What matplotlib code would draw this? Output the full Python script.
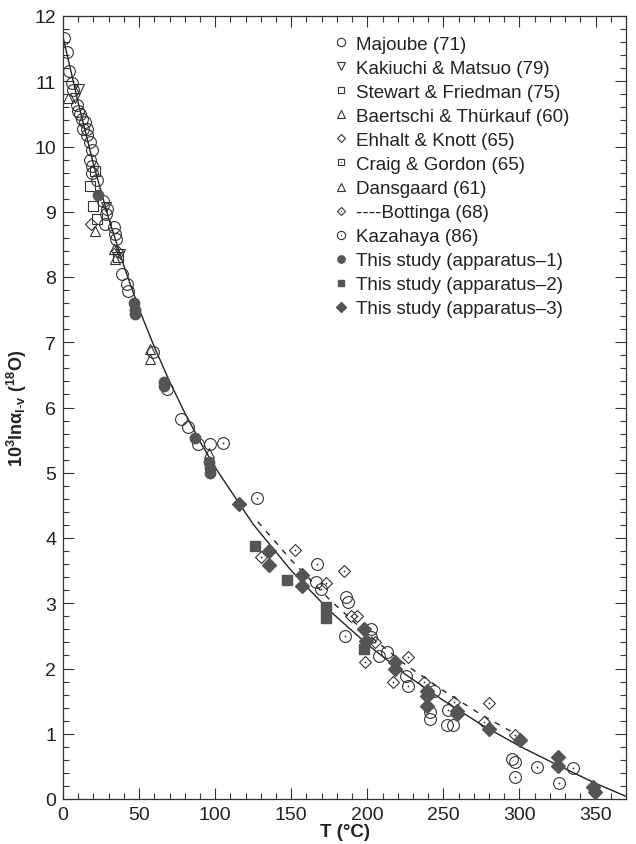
import numpy as np
import matplotlib
matplotlib.use('Agg')
import matplotlib.pyplot as plt
from matplotlib.ticker import MultipleLocator
from matplotlib.legend_handler import HandlerTuple

plt.rcParams['font.family'] = ['Liberation Sans', 'DejaVu Sans']
plt.rcParams['mathtext.default'] = 'regular'

### Данные (T в °C, значения 10^3 ln a)

# сплошная кривая
curve_T = [0, 10, 20, 30, 40, 50, 60, 70, 80, 90, 100, 125, 150, 175, 200, 225, 250, 275, 300, 325, 350, 370]
curve_v = [11.68, 10.67, 9.73, 8.90, 8.17, 7.51, 6.93, 6.40, 5.92, 5.48, 5.08, 4.21, 3.50, 2.89,
           2.37, 1.91, 1.51, 1.14, 0.81, 0.52, 0.24, 0.04]

# пунктир Bottinga
bott_line_T = [128, 150, 175, 200, 225, 250, 275, 298]
bott_line_v = [4.25, 3.66, 3.06, 2.53, 2.06, 1.66, 1.29, 0.99]

majoube_T = [0.7, 2.8, 4.2, 5.7, 6.8, 9.0, 10.1, 11.2, 12.3, 14.5, 13.4, 15.6, 15.6, 17.8, 18.9, 17.8,
             18.9, 19.2, 22.2, 26.2, 28.8, 28.3, 27.7, 33.2, 34.3, 34.9, 38.7, 42.0, 43.0, 59.0, 68.4,
             77.8, 82.0, 88.8, 96.9, 166.0, 185.9, 187.0, 202.4, 207.6, 212.9, 225.4, 243.7, 241.5,
             241.5, 252.5, 256.2, 295.0, 296.8]
majoube_v = [11.67, 11.45, 11.16, 10.98, 10.86, 10.63, 10.55, 10.50, 10.42, 10.37, 10.27, 10.27, 10.17,
             10.07, 9.94, 9.80, 9.70, 9.60, 9.48, 9.17, 9.04, 8.97, 8.81, 8.76, 8.66, 8.58, 8.05, 7.89,
             7.79, 6.85, 6.28, 5.82, 5.70, 5.44, 5.44, 3.33, 3.10, 3.02, 2.61, 2.19, 2.25, 1.88, 1.66,
             1.33, 1.23, 1.13, 1.13, 0.61, 0.56]

kakiuchi_T = [8.0, 10.8, 28.5, 37.6]
kakiuchi_v = [10.75, 10.88, 9.08, 8.35]

stewart_T = [17.8, 20.0, 22.2]
stewart_v = [9.40, 9.09, 8.89]

baertschi_T = [3.5, 21.1, 33.2, 57.3]
baertschi_v = [10.75, 8.71, 8.43, 6.90]

ehhalt_T = [18.2, 35.5]
ehhalt_v = [8.81, 8.40]

craig_T = [21.0, 36.0]
craig_v = [9.62, 8.30]

dansgaard_T = [34.0, 56.9, 95.8]
dansgaard_v = [8.28, 6.74, 5.31]

bottinga_T = [130.3, 152.3, 172.7, 184.4, 189.2, 193.1, 198.4, 205.0, 216.7, 226.6, 237.0, 257.0,
              277.0, 279.7, 296.8]
bottinga_v = [3.71, 3.81, 3.31, 3.50, 2.80, 2.80, 2.10, 2.41, 1.79, 2.18, 1.79, 1.49, 1.18, 1.47, 0.98]

kazahaya_T = [105.3, 127.7, 166.8, 169.4, 185.2, 202.4, 226.8, 252.9, 296.8, 311.8, 325.8, 335.3]
kazahaya_v = [5.46, 4.62, 3.60, 3.22, 2.50, 2.48, 1.73, 1.37, 0.33, 0.49, 0.24, 0.47]

app1_T = [23.3, 46.4, 47.0, 47.5, 66.1, 66.5, 86.6, 96.0, 96.5, 96.6]
app1_v = [9.25, 7.60, 7.50, 7.43, 6.39, 6.33, 5.54, 5.16, 5.08, 5.00]

app2_T = [126.0, 147.5, 172.7, 172.7, 197.8]
app2_v = [3.87, 3.36, 2.95, 2.77, 2.30]

app3_T = [115.6, 135.3, 135.3, 157.0, 157.0, 197.8, 199.0, 218.2, 218.2, 239.3, 239.3, 239.3, 259.0,
          259.0, 279.7, 300.1, 325.0, 325.0, 348.5, 349.4]
app3_v = [4.52, 3.80, 3.59, 3.43, 3.26, 2.61, 2.42, 2.10, 1.99, 1.66, 1.58, 1.43, 1.35, 1.30, 1.07,
          0.91, 0.64, 0.51, 0.18, 0.11]

### Рисунок
fig = plt.figure(figsize=(6.36, 8.45), dpi=100)
ax = fig.add_axes([63 / 636, 1 - 800 / 845, 563 / 636, 783 / 845])

ec = '#333333'
fc = '#555555'

ax.plot(curve_T, curve_v, color='#222222', lw=1.0, zorder=2)
ax.plot(bott_line_T, bott_line_v, color='#222222', lw=1.0, ls=(0, (4, 5)), zorder=2)


def opn(T, v, m, s):
    return ax.plot(T, v, ls='none', marker=m, ms=s, mfc='none', mec=ec, mew=0.8, zorder=3)[0]


def dot(T, v):
    return ax.plot(T, v, ls='none', marker='o', ms=1.3, mfc=ec, mec=ec, mew=0, zorder=3)[0]


h_maj = opn(majoube_T, majoube_v, 'o', 8.5)
h_kak = opn(kakiuchi_T, kakiuchi_v, 'v', 7.5)
h_ste = opn(stewart_T, stewart_v, 's', 7)
h_bae = opn(baertschi_T, baertschi_v, '^', 7.5)
h_ehh = opn(ehhalt_T, ehhalt_v, 'D', 6)
h_cra = (opn(craig_T, craig_v, 's', 7), dot(craig_T, craig_v))
h_dan = opn(dansgaard_T, dansgaard_v, '^', 7.5)
h_bot = (opn(bottinga_T, bottinga_v, 'D', 6), dot(bottinga_T, bottinga_v))
h_kaz = (opn(kazahaya_T, kazahaya_v, 'o', 8.5), dot(kazahaya_T, kazahaya_v))
h_a1 = ax.plot(app1_T, app1_v, ls='none', marker='o', ms=7.5, color=fc, zorder=4)[0]
h_a2 = ax.plot(app2_T, app2_v, ls='none', marker='s', ms=7, color=fc, zorder=4)[0]
h_a3 = ax.plot(app3_T, app3_v, ls='none', marker='D', ms=7, color=fc, zorder=4)[0]

handles = [h_maj, h_kak, h_ste, h_bae, h_ehh, h_cra, h_dan, h_bot, h_kaz, h_a1, h_a2, h_a3]
labels = ['Majoube (71)', 'Kakiuchi & Matsuo (79)', 'Stewart & Friedman (75)',
          'Baertschi & Thürkauf (60)', 'Ehhalt & Knott (65)', 'Craig & Gordon (65)',
          'Dansgaard (61)', '----Bottinga (68)', 'Kazahaya (86)',
          'This study (apparatus–1)', 'This study (apparatus–2)', 'This study (apparatus–3)']
ax.legend(handles, labels, loc='upper left', bbox_to_anchor=(0.48, 0.975), frameon=False,
          fontsize=13.5, markerscale=0.7, handlelength=0.8, handletextpad=0.4,
          labelspacing=0.37, borderpad=0, borderaxespad=0,
          handler_map={tuple: HandlerTuple(ndivide=1)}, labelcolor='#222222')

ax.set_xlim(0, 370)
ax.set_ylim(0, 12)
ax.xaxis.set_major_locator(MultipleLocator(50))
ax.xaxis.set_minor_locator(MultipleLocator(10))
ax.yaxis.set_major_locator(MultipleLocator(1))
ax.yaxis.set_minor_locator(MultipleLocator(0.2))
ax.tick_params(which='both', direction='in', top=True, right=True, colors='#333333',
               labelcolor='#222222', labelsize=14, width=0.8)
ax.tick_params(which='major', length=8, pad=5)
ax.tick_params(which='minor', length=4)
for s in ax.spines.values():
    s.set_color('#333333')
    s.set_linewidth(0.9)

ax.set_xlabel('T (°C)', fontsize=13.5, fontweight='bold', color='#222222', labelpad=0)
ax.set_ylabel(r'10$^{3}$ln$\alpha_{l\text{-}v}$ ($^{18}$O)', fontsize=13, fontweight='bold',
              color='#222222', labelpad=4)

fig.savefig('out.png', dpi=100)
